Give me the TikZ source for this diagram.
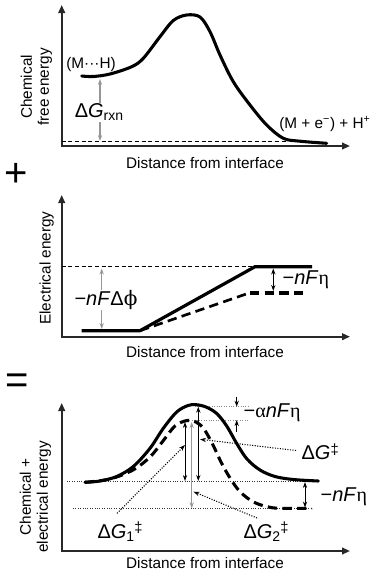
\documentclass[tikz,border=0pt]{standalone}
\usepackage{fontspec}
\setmainfont{Liberation Sans}
\newfontfamily\grk{Liberation Serif}
\newfontfamily\grkb{DejaVu Serif}
\usetikzlibrary{arrows.meta}
\definecolor{axgray}{RGB}{40,40,40}
\definecolor{arrgray}{RGB}{150,150,150}
\newcommand{\lblfont}{\fontsize{11.5}{12.8}\selectfont}
\newcommand{\mfont}{\fontsize{15}{18}\selectfont}
\newcommand{\ddg}{\raisebox{0.5ex}{\fontsize{11}{11}\selectfont ‡}}
\newcommand{\subsz}[1]{\raisebox{-0.35ex}{\fontsize{10.5}{10.5}\selectfont #1}}
\begin{document}
\begin{tikzpicture}[x=0.75pt,y=-0.75pt,
 axis/.style={line width=1.4pt, draw=axgray, {Triangle[length=6pt,width=5pt]}-{Triangle[length=6pt,width=5pt]}, line join=miter},
 curve/.style={line width=2.3pt, line cap=round, line join=round},
 dcurve/.style={line width=2.3pt, dash pattern=on 7pt off 4pt},
 guide/.style={line width=0.6pt, dash pattern=on 3pt off 2pt},
 dotg/.style={line width=0.7pt, dash pattern=on 0.7pt off 1.1pt},
 garrow/.style={draw=arrgray, line width=1pt, {Stealth[length=4.5pt,width=3.2pt]}-{Stealth[length=4.5pt,width=3.2pt]}},
 barrow/.style={line width=0.75pt, {Stealth[length=4.5pt,width=3.2pt]}-{Stealth[length=4.5pt,width=3.2pt]}},
 sarrow/.style={line width=0.75pt, -{Stealth[length=4.5pt,width=3.2pt]}},
 pointer/.style={line width=0.8pt, dash pattern=on 0.8pt off 1.1pt, -{Stealth[length=4.5pt,width=3.2pt]}},
 axlbl/.style={font=\lblfont, inner sep=0pt, align=center},
 mlbl/.style={font=\mfont, inner sep=1pt},
 bigsym/.style={font=\fontsize{30}{30}\selectfont, inner sep=0pt},
]
\useasboundingbox (0,0) rectangle (381,582);

% ================= Panel 1 =================
\draw[axis] (61.7,5) -- (61.7,146) -- (350,146);
\node[axlbl] (x1) at (205,163) {Distance from interface};
\node[axlbl, rotate=90] (y1) at (36.5,87) {Chemical\\free energy};
\draw[guide] (61.7,141.7) -- (287,141.7);
\draw[curve] plot[smooth, tension=0.55] coordinates {(81.7,76) (93.3,76.5) (110,74) (131.7,66.7) (143.3,58.3) (160,36.7) (173.3,20.5) (186.7,15) (200,17) (210,31.7) (220,55) (233.3,81.7) (250,105) (266.7,125) (283.3,138.3) (300,141.2) (326.7,143.3)};
\coordinate (g1t) at (100,79);
\coordinate (g1b) at (100,141);
\draw[garrow] (g1t) -- (g1b);
\node[mlbl, fill=white, inner sep=0.5pt] (dgrxn) at (99,112) {Δ\textit{G}\subsz{rxn}};
\node[axlbl] (mh) at (91,65) {(M···H)};
\node[axlbl, anchor=west] (prod) at (279,124) {(M + e\textsuperscript{−}) + H\textsuperscript{+}};
\node[bigsym] (plus) at (16,175) {+};

% ================= Panel 2 =================
\draw[axis] (61.7,195) -- (61.7,336.7) -- (350,336.7);
\node[axlbl] (x2) at (205,352) {Distance from interface};
\node[axlbl, rotate=90] (y2) at (46.7,268) {Electrical energy};
\draw[guide] (61.7,266.7) -- (255,266.7);
\draw[line width=2.4pt, line join=round] (81.7,330.7) -- (140,330.7) -- (255,266.7) -- (312,266.7);
\draw[line width=2pt, dash pattern=on 7pt off 4pt] (140,330.7) -- (250,292.7);
\draw[line width=3pt, dash pattern=on 7pt off 4pt] (250,292.7) -- (308,292.7);
\coordinate (g2t) at (101.7,268.5);
\coordinate (g2b) at (101.7,329);
\draw[garrow] (g2t) -- (g2b);
\node[mlbl, fill=white, inner sep=0.5pt] (dphi) at (106,300) {−\textit{nF}Δ{\grkb ϕ}};
\coordinate (e2t) at (273.3,268.5);
\coordinate (e2b) at (273.3,291);
\draw[barrow] (e2t) -- (e2b);
\node[mlbl, anchor=west] (eta2) at (281,280) {−\textit{nF}{\grk η}};

% ================= Panel 3 =================
\node[bigsym] (eq) at (17,384) {=};
\draw[axis] (61.7,403) -- (61.7,551) -- (350,551);
\node[axlbl] (x3) at (205,563) {Distance from interface};
\node[axlbl, rotate=90] (y3) at (35.5,497) {Chemical +\\electrical energy};
% guide lines
\draw[dotg, draw=black!80] (67,481) -- (318,481);
\draw[dotg, draw=black!80] (73,508.3) -- (312,508.3);
\draw[dotg, draw=black!45] (195,406.7) -- (248,406.7);
\draw[dotg, draw=black!45] (187,420) -- (248,420);
% curves
\draw[dcurve] plot[smooth, tension=0.55] coordinates {(85,482.3) (110,479) (133,470) (150,457) (163,441) (175,426) (187,420.5) (196,422) (204,429) (213,445) (221,462) (230,478) (240,491.7) (253,501.7) (267,506.7) (280,508.3) (312,508.3)};
\draw[curve] plot[smooth, tension=0.55] coordinates {(85,482.3) (100,481) (116.7,476.5) (133.3,466.5) (150,448.3) (163.3,428.3) (176.7,412) (188,405.5) (196,404.7) (206,407) (216.7,413.5) (226.7,426) (237,444) (247,459) (260,470) (275,476.5) (293.3,479.5) (318.3,481)};
% vertical arrows
\coordinate (a1t) at (185,422);
\coordinate (a1b) at (185,481);
\coordinate (a2t) at (191.7,422);
\coordinate (a2b) at (191.7,508.3);
\coordinate (a3t) at (198.3,406.7);
\coordinate (a3b) at (198.3,481);
\draw[barrow] (a1t) -- (a1b);
\draw[garrow] (a2t) -- (a2b);
\draw[barrow] (a3t) -- (a3b);
% alpha arrows
\coordinate (s1a) at (236.7,396.5);
\coordinate (s1b) at (236.7,406.7);
\coordinate (s2a) at (236.7,431.5);
\coordinate (s2b) at (236.7,420);
\draw[sarrow] (s1a) -- (s1b);
\draw[sarrow] (s2a) -- (s2b);
\node[mlbl, anchor=west] (aeta) at (242,413) {−{\grk α}\textit{nF}{\grk η}};
% right arrow
\coordinate (r3t) at (305,482);
\coordinate (r3b) at (305,507.5);
\draw[barrow] (r3t) -- (r3b);
\node[mlbl, anchor=west] (eta3) at (319,496.7) {−\textit{nF}{\grk η}};
% labels and pointers
\node[mlbl, anchor=west] (dg) at (300,452) {Δ\textit{G}\ddg};
\node[mlbl] (dg1) at (120,532) {Δ\textit{G}\subsz{1}\ddg};
\node[mlbl] (dg2) at (266,532) {Δ\textit{G}\subsz{2}\ddg};
\coordinate (p0) at (296,450.5);
\coordinate (p0e) at (200,439.3);
\coordinate (p1) at (117,513.3);
\coordinate (p1e) at (185,445);
\coordinate (p2) at (257,518);
\coordinate (p2e) at (193.5,491.7);
\draw[pointer] (p0) -- (p0e);
\draw[pointer] (p1) -- (p1e);
\draw[pointer] (p2) -- (p2e);
\end{tikzpicture}
\end{document}
